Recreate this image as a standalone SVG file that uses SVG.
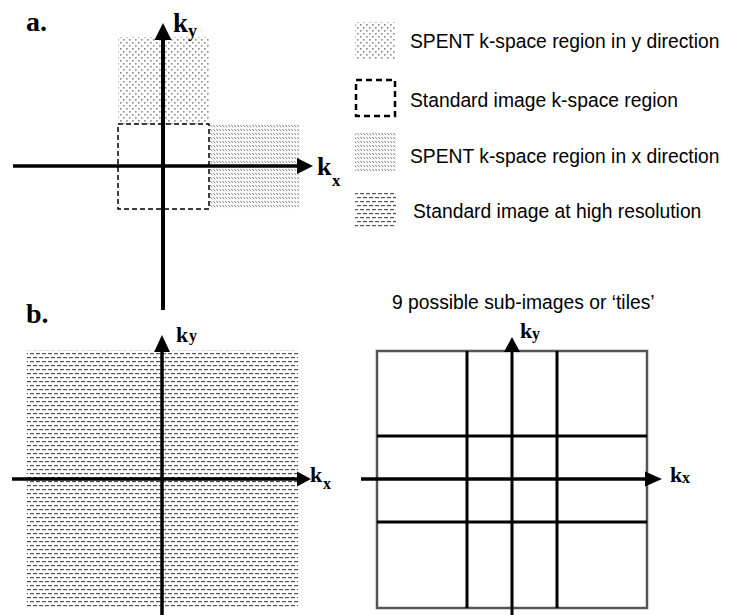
<svg xmlns="http://www.w3.org/2000/svg" width="737" height="615" viewBox="0 0 737 615">
<style>
.lbl{font-family:"Liberation Serif","Times New Roman",serif;font-weight:bold;fill:#000}
.leg{font-family:"Liberation Sans",Arial,sans-serif;font-size:19.3px;fill:#000}
.axis{stroke:#000;fill:none}
.ah{fill:#000;stroke:none}
.grid{stroke:#000;stroke-width:3;fill:none}
</style>
<defs>
<pattern id="patY" patternUnits="userSpaceOnUse" width="6" height="6">
<rect width="6" height="6" fill="#fff"/>
<rect x="0" y="0" width="1.6" height="1.6" fill="#8a8a8a"/>
<rect x="3" y="3" width="1.6" height="1.6" fill="#8a8a8a"/>
</pattern>
<pattern id="patX" patternUnits="userSpaceOnUse" width="3" height="4">
<rect width="3" height="4" fill="#fff"/>
<path d="M0.2 0.8 L2.2 3.2" stroke="#808080" stroke-width="1" fill="none"/>
</pattern>
<pattern id="patH" patternUnits="userSpaceOnUse" width="6" height="8">
<rect width="6" height="8" fill="#fff"/>
<rect x="0" y="1" width="4" height="1.2" fill="#555"/>
<rect x="3" y="5" width="4" height="1.2" fill="#555"/>
<rect x="-3" y="5" width="4" height="1.2" fill="#555"/>
</pattern>
</defs>

<g id="panel-a-regions">
<rect id="spent-y" x="118" y="37" width="91" height="87" fill="url(#patY)"/>
<rect id="spent-x" x="209" y="124" width="90" height="85" fill="url(#patX)"/>
<rect id="standard" x="118" y="124" width="91" height="85" fill="none" stroke="#000" stroke-width="1.5" stroke-dasharray="5 3"/>
</g>

<g id="panel-b-left-region">
<rect id="highres" x="27" y="350" width="271" height="257" fill="url(#patH)"/>
</g>

<g id="panel-b-right-tiles">
<rect x="377" y="351" width="270" height="257" fill="none" stroke="#555" stroke-width="2.5"/>
<line class="grid" x1="467" y1="351" x2="467" y2="608"/>
<line class="grid" x1="557" y1="351" x2="557" y2="608"/>
<line class="grid" x1="377" y1="436" x2="647" y2="436"/>
<line class="grid" x1="377" y1="522" x2="647" y2="522"/>
</g>

<g id="connectors">
<line class="axis" stroke-width="4" x1="163" y1="310" x2="163" y2="38"/>
<polygon class="ah" points="163,23 154.5,40 171.5,40"/>
<line class="axis" stroke-width="3.5" x1="13" y1="166" x2="300" y2="166"/>
<polygon class="ah" points="313,166 297,158 297,174"/>

<line class="axis" stroke-width="3.5" x1="162" y1="615" x2="162" y2="350"/>
<polygon class="ah" points="162,335 154,352 170,352"/>
<line class="axis" stroke-width="3.5" x1="12" y1="479" x2="299" y2="479"/>
<polygon class="ah" points="311,479 297,471.5 297,486.5"/>

<line class="axis" stroke-width="3" x1="512" y1="615" x2="512" y2="350"/>
<polygon class="ah" points="512,337 504,352 520,352"/>
<line class="axis" stroke-width="3.5" x1="361" y1="479" x2="647" y2="479"/>
<polygon class="ah" points="662,479 645,471.5 645,486.5"/>
</g>

<g id="labels">
<text class="lbl" x="26" y="31" font-size="28">a.</text>
<text class="lbl" x="26" y="323" font-size="28">b.</text>
<text class="lbl" x="173" y="32" font-size="27">k</text>
<text class="lbl" x="188" y="37" font-size="18">y</text>
<text class="lbl" x="317" y="175" font-size="26">k</text>
<text class="lbl" x="332" y="186" font-size="17">x</text>
<text class="lbl" x="176" y="342" font-size="22">k</text>
<text class="lbl" x="189" y="341" font-size="16">y</text>
<text class="lbl" x="310" y="482" font-size="22">k</text>
<text class="lbl" x="323" y="489" font-size="16">x</text>
<text class="lbl" x="520" y="338" font-size="22">k</text>
<text class="lbl" x="532" y="339" font-size="16">y</text>
<text class="lbl" x="670" y="482" font-size="22">k</text>
<text class="lbl" x="682" y="483" font-size="16">x</text>
</g>

<g id="legend">
<g id="leg-y"><rect x="355" y="22" width="41" height="38" fill="url(#patY)"/><text class="leg" x="410" y="48">SPENT k-space region in y direction</text></g>
<g id="leg-std"><rect x="356" y="80" width="39" height="36" fill="none" stroke="#000" stroke-width="2.5" stroke-dasharray="6 4"/><text class="leg" x="410" y="107">Standard image k-space region</text></g>
<g id="leg-x"><rect x="355" y="133" width="41" height="38" fill="url(#patX)"/><text class="leg" x="410" y="163">SPENT k-space region in x direction</text></g>
<g id="leg-hr"><rect x="355" y="191" width="41" height="37" fill="url(#patH)"/><text class="leg" x="413" y="218">Standard image at high resolution</text></g>
<g id="tiles-caption"><text class="leg" x="392" y="309">9 possible sub-images or ‘tiles’</text></g>
</g>
</svg>
